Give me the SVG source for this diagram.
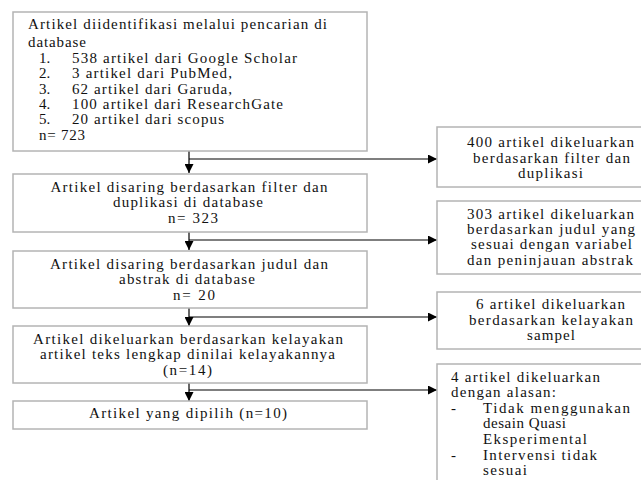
<svg xmlns="http://www.w3.org/2000/svg" width="641" height="480" viewBox="0 0 641 480">
<defs>
<marker id="ah" viewBox="0 0 10 10" refX="10" refY="5" markerWidth="9" markerHeight="9" markerUnits="userSpaceOnUse" orient="auto">
<path d="M0,0 L10,5 L0,10 Z" fill="#000"/>
</marker>
</defs>
<style>
rect.box{fill:#fff;stroke:#b4b4b4;stroke-width:1.5}
.c{text-anchor:middle}
.ln{stroke:#000;stroke-width:1.2;fill:none}
</style>
<rect width="641" height="480" fill="#fff"/>
<g id="connectors">
<line class="ln" x1="189" y1="151" x2="189" y2="173" marker-end="url(#ah)"/>
<line class="ln" x1="189" y1="159" x2="437" y2="159" marker-end="url(#ah)"/>
<line class="ln" x1="189" y1="232" x2="189" y2="250" marker-end="url(#ah)"/>
<line class="ln" x1="189" y1="240" x2="437" y2="240" marker-end="url(#ah)"/>
<line class="ln" x1="189" y1="308" x2="189" y2="326" marker-end="url(#ah)"/>
<line class="ln" x1="189" y1="317" x2="437" y2="317" marker-end="url(#ah)"/>
<line class="ln" x1="189" y1="383" x2="189" y2="401" marker-end="url(#ah)"/>
<line class="ln" x1="189" y1="390" x2="437" y2="390" marker-end="url(#ah)"/>
</g>
<g font-family="Liberation Serif, Times New Roman, serif" font-size="15" fill="#111">
<g id="n1">
<rect class="box" x="13" y="12" width="354" height="139"/>
<text x="28" y="29" textLength="299" lengthAdjust="spacing">Artikel diidentifikasi melalui pencarian di</text>
<text x="28" y="47" textLength="58" lengthAdjust="spacing">database</text>
<text x="39" y="63">1.</text><text x="72" y="63" textLength="225" lengthAdjust="spacing">538 artikel dari Google Scholar</text>
<text x="39" y="78">2.</text><text x="72" y="78" textLength="160" lengthAdjust="spacing">3 artikel dari PubMed,</text>
<text x="39" y="94">3.</text><text x="72" y="94" textLength="160" lengthAdjust="spacing">62 artikel dari Garuda,</text>
<text x="39" y="109">4.</text><text x="72" y="109" textLength="211" lengthAdjust="spacing">100 artikel dari ResearchGate</text>
<text x="39" y="124">5.</text><text x="72" y="124" textLength="152" lengthAdjust="spacing">20 artikel dari scopus</text>
<text x="39" y="140" textLength="46" lengthAdjust="spacing">n= 723</text>
</g>
<g id="n2">
<rect class="box" x="13" y="174" width="354" height="58"/>
<text class="c" x="189" y="192" textLength="277" lengthAdjust="spacing">Artikel disaring berdasarkan filter dan</text>
<text class="c" x="188" y="207" textLength="150" lengthAdjust="spacing">duplikasi di database</text>
<text class="c" x="193" y="223" textLength="50" lengthAdjust="spacing">n= 323</text>
</g>
<g id="n3">
<rect class="box" x="13" y="251" width="354" height="57"/>
<text class="c" x="189" y="269" textLength="278" lengthAdjust="spacing">Artikel disaring berdasarkan judul dan</text>
<text class="c" x="187" y="284" textLength="136" lengthAdjust="spacing">abstrak di database</text>
<text class="c" x="194" y="300" textLength="42" lengthAdjust="spacing">n= 20</text>
</g>
<g id="n4">
<rect class="box" x="13" y="326" width="354" height="57"/>
<text class="c" x="188" y="344" textLength="310" lengthAdjust="spacing">Artikel dikeluarkan berdasarkan kelayakan</text>
<text class="c" x="187.5" y="359" textLength="295" lengthAdjust="spacing">artikel teks lengkap dinilai kelayakannya</text>
<text class="c" x="187.5" y="375" textLength="49" lengthAdjust="spacing">(n=14)</text>
</g>
<g id="n5">
<rect class="box" x="13" y="401" width="354" height="28"/>
<text class="c" x="188" y="418" textLength="198" lengthAdjust="spacing">Artikel yang dipilih (n=10)</text>
</g>
<g id="r1">
<rect class="box" x="437" y="127" width="215" height="60"/>
<text class="c" x="550.5" y="147" textLength="167" lengthAdjust="spacing">400 artikel dikeluarkan</text>
<text class="c" x="551.5" y="163" textLength="157" lengthAdjust="spacing">berdasarkan filter dan</text>
<text class="c" x="550.5" y="178" textLength="65" lengthAdjust="spacing">duplikasi</text>
</g>
<g id="r2">
<rect class="box" x="437" y="201" width="215" height="73"/>
<text class="c" x="550.5" y="219" textLength="167" lengthAdjust="spacing">303 artikel dikeluarkan</text>
<text class="c" x="551" y="234" textLength="168" lengthAdjust="spacing">berdasarkan judul yang</text>
<text class="c" x="551.5" y="249" textLength="161" lengthAdjust="spacing">sesuai dengan variabel</text>
<text class="c" x="550" y="265" textLength="166" lengthAdjust="spacing">dan peninjauan abstrak</text>
</g>
<g id="r3">
<rect class="box" x="437" y="292" width="215" height="57"/>
<text class="c" x="550.5" y="309" textLength="149" lengthAdjust="spacing">6 artikel dikeluarkan</text>
<text class="c" x="551" y="325" textLength="164" lengthAdjust="spacing">berdasarkan kelayakan</text>
<text class="c" x="551" y="340" textLength="48" lengthAdjust="spacing">sampel</text>
</g>
<g id="r4">
<rect class="box" x="437" y="364" width="215" height="130"/>
<text x="451" y="382" textLength="149" lengthAdjust="spacing">4 artikel dikeluarkan</text>
<text x="451" y="397" textLength="105" lengthAdjust="spacing">dengan alasan:</text>
<text x="451" y="413">-</text>
<text x="483" y="413" textLength="147" lengthAdjust="spacing">Tidak menggunakan</text>
<text x="483" y="428" textLength="83" lengthAdjust="spacing">desain Quasi</text>
<text x="483" y="444" textLength="104" lengthAdjust="spacing">Eksperimental</text>
<text x="451" y="460">-</text>
<text x="483" y="460" textLength="114" lengthAdjust="spacing">Intervensi tidak</text>
<text x="483" y="475" textLength="44" lengthAdjust="spacing">sesuai</text>
</g>
</g>
</svg>
